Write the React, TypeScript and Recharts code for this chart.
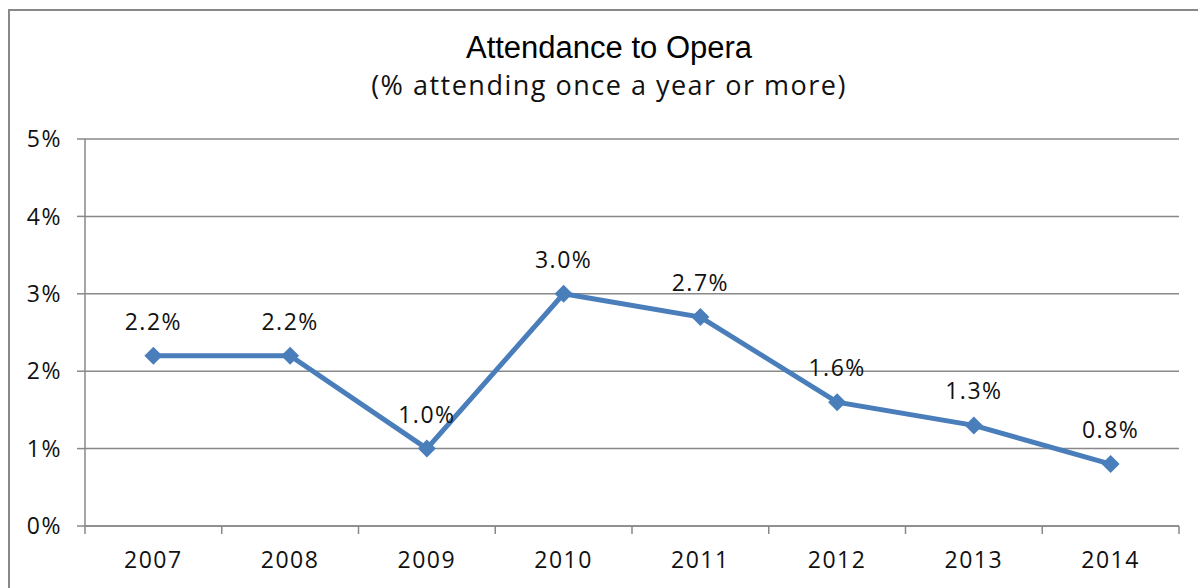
import { LineChart, Line, XAxis, YAxis, CartesianGrid, LabelList } from 'recharts'

const years = ['2007', '2008', '2009', '2010', '2011', '2012', '2013', '2014']
const attendance = [2.2, 2.2, 1.0, 3.0, 2.7, 1.6, 1.3, 0.8]
const yTicks = [0, 1, 2, 3, 4, 5]

const data = years.map((year, i) => ({ year, value: attendance[i] }))

const W = 1198
const H = 588
const gray = '#888888'
const blue = '#4a7ebb'
const labelFont = '"Open Sans", sans-serif'

function Diamond(props: any) {
  const { cx, cy, index } = props
  if (cx == null || cy == null) return null
  const r = 9
  return (
    <path
      key={`dot-${index}`}
      d={`M${cx},${cy - r} L${cx + r},${cy} L${cx},${cy + r} L${cx - r},${cy} Z`}
      fill={blue}
    />
  )
}

function YearTick(props: any) {
  const { x, y, payload, index, visibleTicksCount } = props
  const half = payload?.offset || (W - 19 - 85) / years.length / 2
  const last = index === (visibleTicksCount ?? years.length) - 1
  return (
    <g>
      <line x1={x - half} x2={x - half} y1={y} y2={y + 8} stroke={gray} strokeWidth={1.5} />
      {last && <line x1={x + half} x2={x + half} y1={y} y2={y + 8} stroke={gray} strokeWidth={1.5} />}
      <text
        x={x}
        y={y + 42}
        textAnchor="middle"
        fill="#111"
        style={{ fontFamily: labelFont, fontSize: 23, letterSpacing: 1.5 }}
      >
        {payload.value}
      </text>
    </g>
  )
}

export default function App() {
  return (
    <div style={{ position: 'fixed', left: 0, top: 0, width: W, height: H, background: '#fff', overflow: 'hidden' }}>
      <div
        style={{
          position: 'absolute',
          left: 8,
          top: 9,
          width: 1300,
          height: 700,
          border: `2px solid ${gray}`,
          boxSizing: 'border-box',
        }}
      />
      <div
        style={{
          position: 'absolute',
          left: 0,
          width: 1218,
          top: 30,
          textAlign: 'center',
          fontFamily: '"Liberation Sans", Arial, sans-serif',
          fontSize: 31,
          color: '#000',
          lineHeight: '36px',
        }}
      >
        Attendance to Opera
      </div>
      <div
        style={{
          position: 'absolute',
          left: 0,
          width: 1218,
          top: 67,
          textAlign: 'center',
          fontFamily: labelFont,
          fontSize: 27,
          letterSpacing: 1.5,
          color: '#111',
          lineHeight: '36px',
        }}
      >
        (% attending once a year or more)
      </div>
      <div style={{ position: 'absolute', left: 0, top: 0 }}>
        <LineChart width={W} height={H} data={data} margin={{ top: 139, right: 19, bottom: 0, left: 0 }}>
          <CartesianGrid vertical={false} stroke={gray} strokeWidth={1.5} />
          <XAxis
            dataKey="year"
            scale="band"
            height={62}
            axisLine={{ stroke: gray, strokeWidth: 1.5 }}
            tickLine={false}
            tickSize={0}
            tickMargin={0}
            tick={<YearTick />}
            interval={0}
          />
          <YAxis
            width={85}
            domain={[0, 5]}
            ticks={yTicks}
            interval={0}
            tickFormatter={(v: number) => `${v}%`}
            axisLine={{ stroke: gray, strokeWidth: 1.5 }}
            tickLine={{ stroke: gray, strokeWidth: 1.5 }}
            tickSize={8}
            tickMargin={15}
            tick={{ fill: '#111', fontSize: 23, fontFamily: labelFont, letterSpacing: 1.5 }}
          />
          <Line
            type="linear"
            dataKey="value"
            stroke={blue}
            strokeWidth={5}
            dot={Diamond}
            activeDot={false}
            isAnimationActive={false}
          >
            <LabelList
              dataKey="value"
              position="top"
              offset={26}
              formatter={(v: any) => `${Number(v).toFixed(1)}%`}
              style={{ fill: '#111', fontSize: 23, fontFamily: labelFont, letterSpacing: 1.5 }}
            />
          </Line>
        </LineChart>
      </div>
    </div>
  )
}
